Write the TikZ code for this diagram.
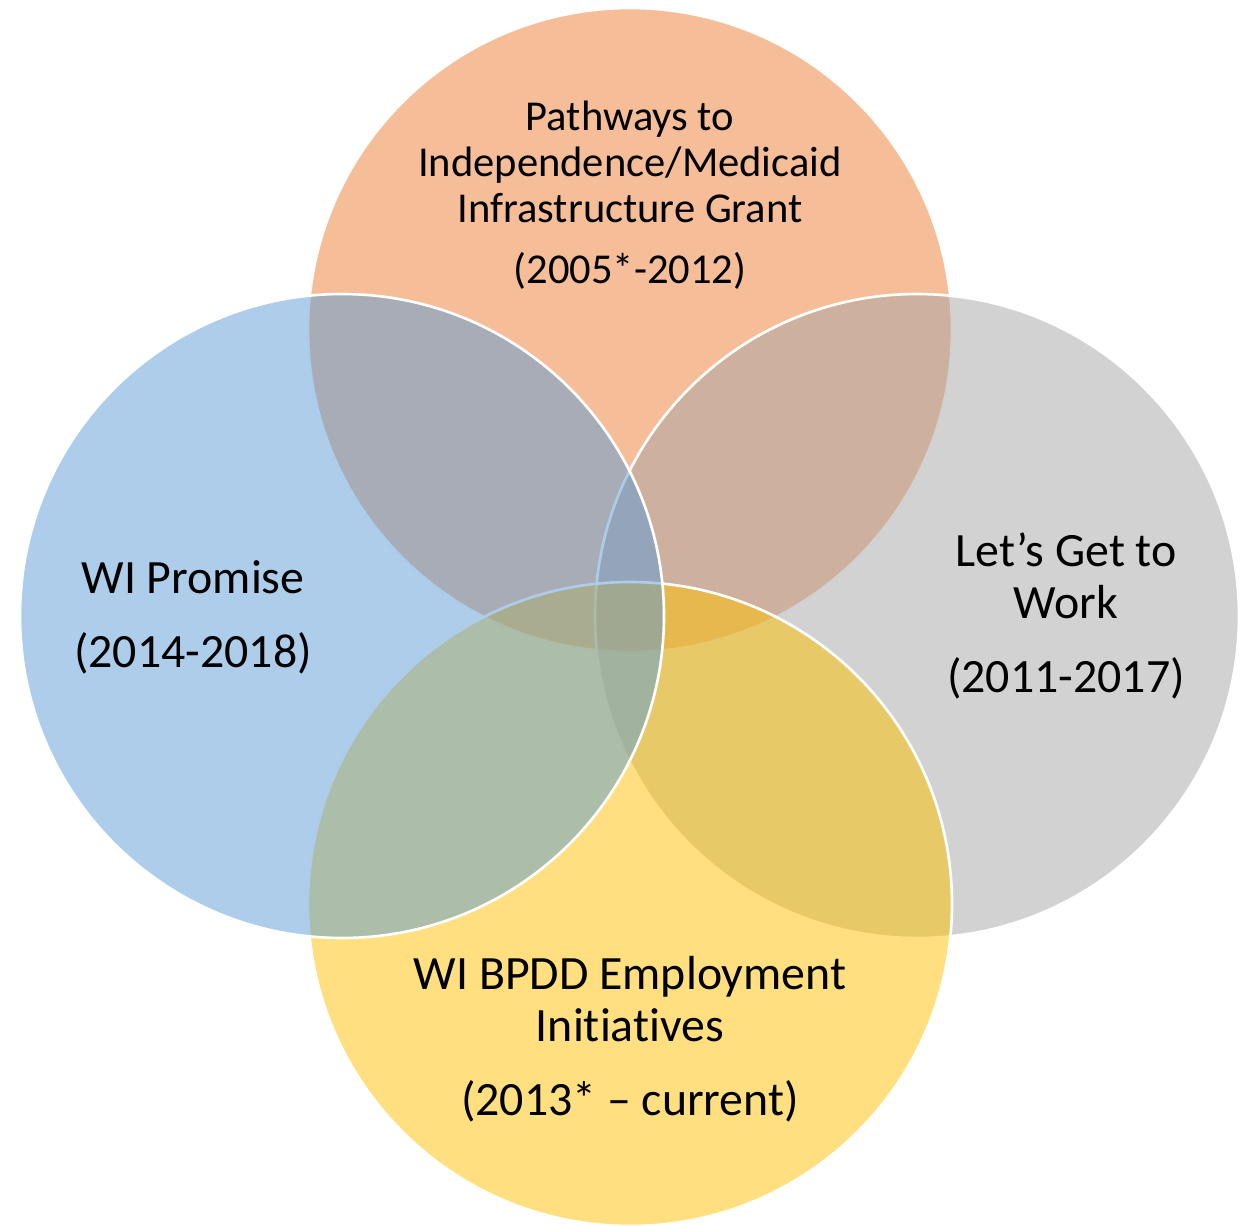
\documentclass[tikz,border=0pt]{standalone}
\usepackage{fontspec}
\setmainfont{Carlito}[Ligatures=NoCommon]
\usetikzlibrary{calc}
\definecolor{vennBlue}{HTML}{5B9BD5}
\definecolor{vennOrange}{HTML}{ED7D31}
\definecolor{vennGray}{HTML}{A5A5A5}
\definecolor{vennGold}{HTML}{FFC000}
\tikzset{venn/.style = {draw=white, line width=0.75pt, fill opacity=0.5, draw opacity=1}}
\tikzset{small label/.style = {align=center, anchor=base, inner sep=0pt,
						 font=\fontsize{12.1}{13.2}\selectfont}}
\tikzset{big label/.style = {align=center, anchor=base, inner sep=0pt,
						 font=\fontsize{13.6}{14.8}\selectfont}}

\begin{document}
\begin{tikzpicture}[x=0.01cm, y=-0.01cm, line cap=round, line join=round]
		\useasboundingbox (0,0) rectangle (1256,1226);
		
		% Coordinates
		\coordinate (top) at (630,330);
		\coordinate (left) at (342,616);
		\coordinate (right) at (917,616);
		\coordinate (bottom) at (630,904);
		
		% Circles
		\draw[venn, fill=vennOrange] (top) circle[radius=322];
		\draw[venn, fill=vennGray] (right) circle[radius=322];
		\draw[venn, fill=vennGold] (bottom) circle[radius=322];
		\draw[venn, fill=vennBlue] (left) circle[radius=322];
		
		% Nodes (anchored at the baseline of the last line)
		\node[small label] (pathways) at (630,283) {Pathways to\\Independence/Medicaid\\Infrastructure Grant\\[3.9pt](2005*-2012)};
		\node[big label] (promise) at (193,667) {WI Promise\\[6pt](2014-2018)};
		\node[big label] (work) at (1066,692) {Let’s Get to\\Work\\[6pt](2011-2017)};
		\node[big label] (bpdd) at (630,1115) {WI BPDD Employment\\Initiatives\\[6pt](2013* – current)};
	\end{tikzpicture}
\end{document}
